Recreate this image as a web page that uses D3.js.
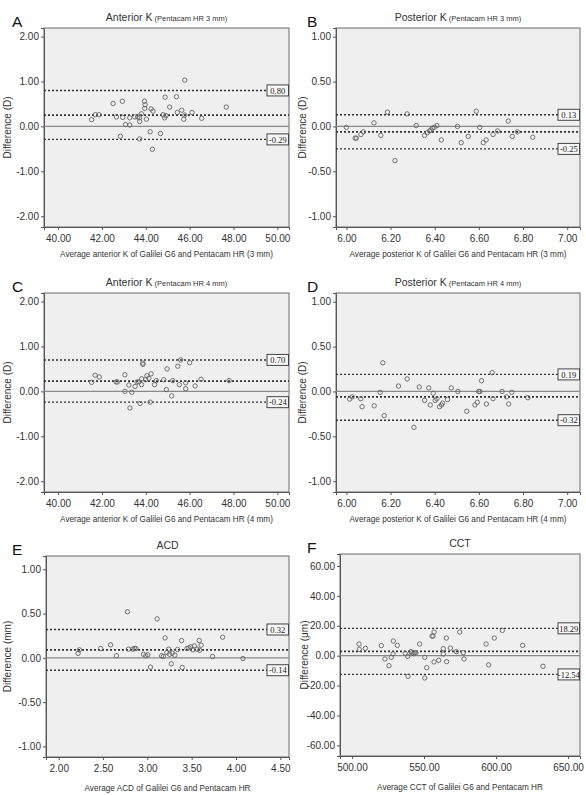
<!DOCTYPE html>
<html><head><meta charset="utf-8">
<script src="https://cdn.jsdelivr.net/npm/d3@7"></script>
<style>
body{margin:0;background:#fff;}
svg{display:block;}
</style></head>
<body>
<svg id="chart" width="586" height="795"></svg>
<script>
// ---------- DATA ----------
// Panel A: Anterior K (Pentacam HR 3 mm)
const aX = [41.53,41.70,41.87,42.51,42.66,42.93,42.95,42.84,43.08,43.27,43.27,43.50,43.63,43.72,43.72,43.80,43.72,43.94,43.97,43.95,44.03,44.20,44.24,44.33,44.30,44.67,44.79,44.88,44.86,44.92,45.09,45.40,45.44,45.64,45.78,45.73,45.78,46.11,46.55,47.67];
const aY = [0.15,0.26,0.26,0.51,0.21,0.56,0.20,-0.22,0.04,0.03,0.19,0.21,0.21,0.11,0.19,0.28,-0.28,0.56,0.48,0.40,0.16,-0.12,0.39,0.34,-0.51,-0.16,0.26,0.65,0.19,0.24,0.43,0.66,0.31,0.36,1.03,0.16,0.25,0.31,0.18,0.43];
// Panel B: Posterior K (Pentacam HR 3 mm)
const bX = [6.00,6.04,6.045,6.066,6.077,6.125,6.156,6.186,6.22,6.275,6.316,6.354,6.366,6.377,6.383,6.389,6.398,6.41,6.43,6.503,6.52,6.552,6.588,6.604,6.62,6.633,6.664,6.685,6.733,6.751,6.774,6.844];
const bY = [-0.01,-0.13,-0.13,-0.09,-0.06,0.04,-0.10,0.16,-0.38,0.14,0.01,-0.10,-0.07,-0.05,-0.04,-0.02,-0.01,0.01,-0.15,0.00,-0.18,-0.11,0.17,-0.01,-0.18,-0.15,-0.09,-0.05,0.06,-0.11,-0.06,-0.12];
// Panel C: Anterior K (Pentacam HR 4 mm)
const cX = [41.53,41.69,41.88,42.65,42.70,43.05,43.05,43.23,43.28,43.36,43.51,43.60,43.68,43.74,43.81,43.81,43.86,43.87,43.99,44.05,44.14,44.24,44.20,44.40,44.48,44.82,44.97,44.94,45.18,45.23,45.46,45.53,45.59,45.82,45.82,46.00,46.25,46.52,47.80];
const cY = [0.20,0.36,0.32,0.21,0.21,0.37,0.00,0.14,-0.37,-0.02,0.11,0.21,0.21,-0.27,0.15,0.28,0.63,0.60,0.26,0.35,0.29,0.39,-0.24,0.15,0.24,0.26,0.50,0.04,-0.10,0.24,0.56,0.15,0.70,0.19,0.06,0.64,0.12,0.27,0.24];
// Panel D: Posterior K (Pentacam HR 4 mm)
const dX = [6.015,6.026,6.065,6.071,6.126,6.153,6.165,6.171,6.236,6.275,6.306,6.33,6.354,6.373,6.38,6.393,6.402,6.41,6.422,6.431,6.436,6.458,6.475,6.505,6.545,6.582,6.593,6.599,6.605,6.612,6.634,6.66,6.664,6.705,6.725,6.735,6.749,6.822];
const dY = [-0.085,-0.06,-0.08,-0.17,-0.16,-0.01,0.32,-0.27,0.06,0.14,-0.40,0.05,-0.10,0.04,-0.15,-0.02,-0.10,-0.08,-0.17,-0.15,-0.13,-0.09,0.04,0.00,-0.22,-0.15,-0.12,0.00,0.00,0.12,-0.14,0.21,-0.08,0.00,-0.06,-0.14,-0.01,-0.07];
// Panel E: ACD
const eX = [2.218,2.233,2.474,2.584,2.651,2.775,2.787,2.836,2.855,2.87,2.956,2.982,3.005,3.035,3.11,3.16,3.18,3.20,3.22,3.24,3.25,3.27,3.28,3.31,3.34,3.386,3.393,3.446,3.468,3.49,3.514,3.53,3.56,3.585,3.59,3.606,3.735,3.849,4.078];
const eY = [0.05,0.09,0.105,0.147,0.023,0.52,0.098,0.098,0.105,0.105,0.04,0.023,0.034,-0.105,0.44,0.023,0.015,0.225,0.06,0.098,0.04,-0.068,0.053,0.03,0.094,0.195,-0.109,0.105,0.113,0.124,0.09,0.135,0.098,0.195,0.086,0.143,0.015,0.233,-0.008];
// Panel F: CCT
const fX = [504.9,505.1,509.3,520.4,522.9,525.7,527.3,528.5,528.7,531.5,537.0,538.7,538.9,541.0,541.7,542.8,543.5,544.4,547.0,550.5,550.5,551.9,555.6,556.3,557.0,557.0,560.2,563.4,563.4,565.5,565.7,568.3,572.5,574.8,577.3,577.8,593.1,594.9,598.8,604.4,618.5,632.6];
const fY = [7.8,4.2,4.9,6.7,-2.2,-6.7,-1.1,1.3,9.8,6.9,1.6,-0.4,-13.8,2.7,1.8,1.3,2.0,1.8,7.8,-1.1,-14.9,-8.0,13.1,13.1,15.8,-4.2,-3.1,4.7,1.1,11.8,-4.0,5.1,2.7,15.8,2.0,-2.2,7.8,-6.2,11.8,16.9,6.9,-7.1];

// Bias (mean difference) and 95% limits of agreement per panel A..F
const meanDiff = [0.25,-0.06,0.23,-0.06,0.09,2.87];
const upperLoA = [0.80,0.13,0.70,0.19,0.32,18.29];
const lowerLoA = [-0.29,-0.25,-0.24,-0.32,-0.14,-12.54];

// Tick values
const xTicksAnt = [40,42,44,46,48,50];
const yTicksAnt = [-2,-1,0,1,2];
const xTicksPost = [6.0,6.2,6.4,6.6,6.8,7.0];
const yTicksPost = [-1,-0.5,0,0.5,1];
const xTicksACD = [2.0,2.5,3.0,3.5,4.0,4.5];
const yTicksACD = [-1,-0.5,0,0.5,1];
const xTicksCCT = [500,550,600,650];
const yTicksCCT = [-60,-40,-20,0,20,40,60];

const letters = ["A","B","C","D","E","F"];
const titles = ["Anterior K","Posterior K","Anterior K","Posterior K","ACD","CCT"];
const subtitles = [" (Pentacam HR 3 mm)"," (Pentacam HR 3 mm)"," (Pentacam HR 4 mm)"," (Pentacam HR 4 mm)","",""];
const xLabels = [
 "Average anterior K of Galilei G6 and Pentacam HR (3 mm)",
 "Average posterior K of Galilei G6 and Pentacam HR (3 mm)",
 "Average anterior K of Galilei G6 and Pentacam HR (4 mm)",
 "Average posterior K of Galilei G6 and Pentacam HR (4 mm)",
 "Average ACD of Galilei G6 and Pentacam HR",
 "Average CCT of Galilei G6 and Pentacam HR"];
const yLabels = ["Difference (D)","Difference (D)","Difference (D)","Difference (D)","Difference (mm)","Difference (μm)"];

// ---------- LAYOUT ----------
const layout = [
 {l:44,r:289,t:28,b:227, xd:[39.36,50.53], yd:[-2.24,2.19], xt:xTicksAnt, yt:yTicksAnt, lx:8, tx:12},
 {l:336,r:580,t:28,b:227, xd:[5.953,7.058], yd:[-1.12,1.097], xt:xTicksPost, yt:yTicksPost, lx:303, tx:307},
 {l:44,r:289,t:293,b:492, xd:[39.36,50.53], yd:[-2.24,2.19], xt:xTicksAnt, yt:yTicksAnt, lx:8, tx:12},
 {l:336,r:580,t:293,b:492, xd:[5.953,7.058], yd:[-1.12,1.097], xt:xTicksPost, yt:yTicksPost, lx:303, tx:307},
 {l:46,r:289,t:556,b:757, xd:[1.856,4.598], yd:[-1.12,1.15], xt:xTicksACD, yt:yTicksACD, lx:8, tx:12},
 {l:340,r:580,t:554,b:756, xd:[491.7,658.3], yd:[-67.1,68], xt:xTicksCCT, yt:yTicksCCT, lx:305, tx:307}
];
const xsData = [aX,bX,cX,dX,eX,fX];
const ysData = [aY,bY,cY,dY,eY,fY];

const svg = d3.select("#chart");
const SANS = "'Liberation Sans', Arial, sans-serif";
const NARROW = "'Liberation Sans Narrow', 'Arial Narrow', 'Liberation Sans', sans-serif";
const fmt = d3.formatLocale({decimal:".", thousands:",", grouping:[3], currency:["",""], minus:"-"}).format(".2f");

layout.forEach((L,i)=>{
  const x = d3.scaleLinear().domain(L.xd).range([L.l,L.r]);
  const y = d3.scaleLinear().domain(L.yd).range([L.b,L.t]);
  const g = svg.append("g");

  // plot background
  g.append("rect").attr("x",L.l).attr("y",L.t).attr("width",L.r-L.l).attr("height",L.b-L.t)
    .attr("fill","#efefef").attr("stroke","#6a6a6a").attr("stroke-width",1);

  // axes
  const ya = g.append("g").attr("transform",`translate(${L.l},0)`)
    .call(d3.axisLeft(y).tickValues(L.yt).tickFormat(fmt).tickSize(3).tickPadding(2));
  const xa = g.append("g").attr("transform",`translate(0,${L.b})`)
    .call(d3.axisBottom(x).tickValues(L.xt).tickFormat(fmt).tickSize(3).tickPadding(5));
  [ya,xa].forEach(a=>{
    a.select(".domain").attr("stroke","#555");
    a.selectAll(".tick line").attr("stroke","#555");
    a.selectAll("text").attr("font-family",SANS).attr("font-size",10).attr("fill","#333");
  });

  // zero line
  g.append("line").attr("x1",L.l).attr("x2",L.r).attr("y1",y(0)).attr("y2",y(0))
    .attr("stroke","#8a8a8a").attr("stroke-width",1.2);

  // bias & LoA lines
  const boxW = 22, boxH = 11;
  [[meanDiff[i],false],[upperLoA[i],true],[lowerLoA[i],true]].forEach(([v,boxed])=>{
    g.append("line").attr("x1",L.l).attr("x2",boxed? L.r-boxW : L.r)
      .attr("y1",y(v)).attr("y2",y(v))
      .attr("stroke","#333").attr("stroke-width",boxed?1.4:1.8).attr("stroke-dasharray","2,2");
    if(boxed){
      g.append("rect").attr("x",L.r-boxW).attr("y",y(v)-boxH/2).attr("width",boxW-0.5).attr("height",boxH)
        .attr("fill","#f7f7f7").attr("stroke","#444").attr("stroke-width",1);
      g.append("text").attr("x",L.r-boxW/2-0.2).attr("y",y(v)+3.2).attr("text-anchor","middle")
        .attr("font-family","'Liberation Serif', 'Times New Roman', serif").attr("font-size",8.5)
        .attr("fill","#222").text(fmt(v));
    }
  });

  // points
  g.append("g").selectAll("circle").data(xsData[i].map((d,k)=>[d,ysData[i][k]])).join("circle")
    .attr("cx",d=>x(d[0])).attr("cy",d=>y(d[1])).attr("r",2.2)
    .attr("fill","none").attr("stroke","#666").attr("stroke-width",0.9);

  // panel letter
  svg.append("text").attr("x",L.tx).attr("y",L.t-1).attr("font-family",SANS).attr("font-size",15.5)
    .attr("fill","#111").text(letters[i]);

  // title
  const tt = svg.append("text").attr("x",(L.l+L.r)/2).attr("y",L.t-7).attr("text-anchor","middle")
    .attr("font-family",NARROW).attr("fill","#333");
  tt.append("tspan").attr("font-size",10.5).text(titles[i]);
  if(subtitles[i]) tt.append("tspan").attr("font-size",7.5).text(subtitles[i]);

  // y label
  svg.append("text").attr("transform",`translate(${L.lx+3},${(L.t+L.b)/2}) rotate(-90)`)
    .attr("text-anchor","middle").attr("font-family",NARROW).attr("font-size",10).attr("fill","#333")
    .text(yLabels[i]);

  // x label
  svg.append("text").attr("x",(L.l+L.r)/2).attr("y",L.b+ (i>=4?34:30)).attr("text-anchor","middle")
    .attr("font-family",NARROW).attr("font-size",8.2).attr("fill","#333").text(xLabels[i]);
});
</script>
</body></html>
